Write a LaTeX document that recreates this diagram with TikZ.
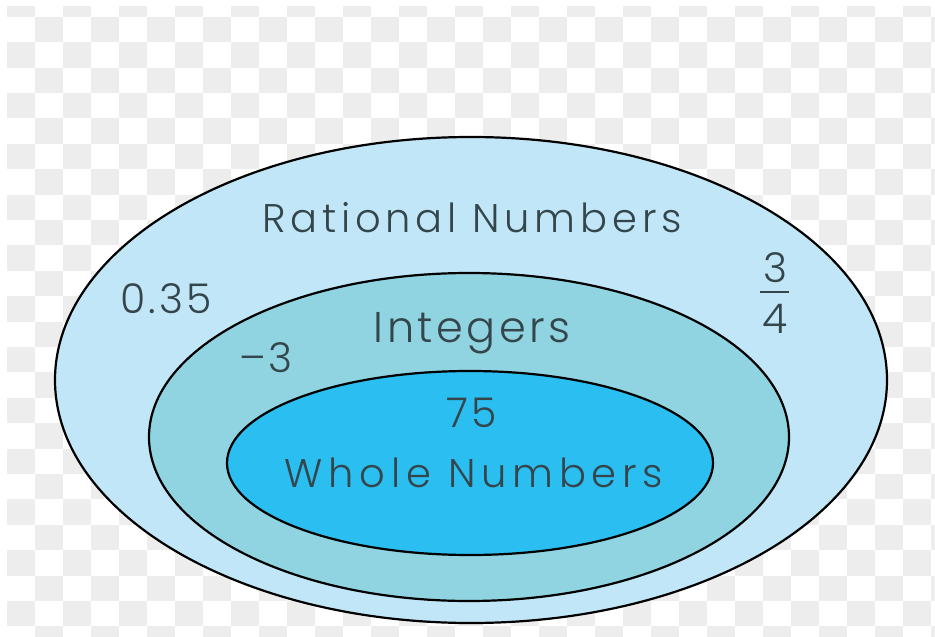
\documentclass[tikz,border=0pt]{standalone}
\usepackage{fontspec}
\setmainfont{Poppins}[UprightFont=* Light]
\definecolor{outerc}{HTML}{C0E6F7}
\definecolor{midc}{HTML}{8FD4E0}
\definecolor{innerc}{HTML}{2ABEF1}
\definecolor{txt}{HTML}{34464C}
\definecolor{chk}{HTML}{EDEDED}
\begin{document}
\begin{tikzpicture}[x=1pt,y=-1pt,
  ring/.style={draw=black, line width=2.2pt},
  lbl/.style={text=txt, inner sep=0pt, anchor=base},
  big/.style={font=\fontsize{40}{44}\selectfont\addfontfeatures{LetterSpace=12}},
  num/.style={font=\fontsize{41}{44}\selectfont\addfontfeatures{LetterSpace=8}}]
\useasboundingbox (0,0) rectangle (935,637);
\fill[white] (0,0) rectangle (935,637);
\begin{scope}
  \clip (6.7,6.7) rectangle (935,637);
  \foreach \i in {0,...,33}{\foreach \j in {0,...,25}{
    \pgfmathtruncatemacro{\p}{mod(\i+\j,2)}
    \ifnum\p=0 \fill[chk] ({6.7+28*\i},{16.7+25.4*(\j-1)}) rectangle ++(28,25.4); \fi
  }}
\end{scope}
\draw[ring, fill=outerc] (471,380) ellipse [x radius=416, y radius=243];
\draw[ring, fill=midc] (469,437) ellipse [x radius=320, y radius=164];
\draw[ring, fill=innerc] (470,463) ellipse [x radius=243, y radius=92];
\node[lbl, big] (rational) at (472,232) {Rational Numbers};
\node[lbl, num] (dec) at (166,313) {0.35};
\node[lbl, num] (three) at (775,282) {3};
\node[lbl, num] (four) at (775,333) {4};
\coordinate (barl) at (760,292);
\coordinate (barr) at (789,292);
\draw[txt, line width=1.8pt] (barl) -- (barr);
\node[lbl, font=\fontsize{43}{46}\selectfont\addfontfeatures{LetterSpace=8}] (integers) at (472,342) {Integers};
\node[lbl, num] (neg) at (266,372) {–3};
\node[lbl, num] (sf) at (472,427) {75};
\node[lbl, font=\fontsize{40}{44}\selectfont\addfontfeatures{LetterSpace=14.5}] (whole) at (474,487) {Whole Numbers};
\end{tikzpicture}
\end{document}
